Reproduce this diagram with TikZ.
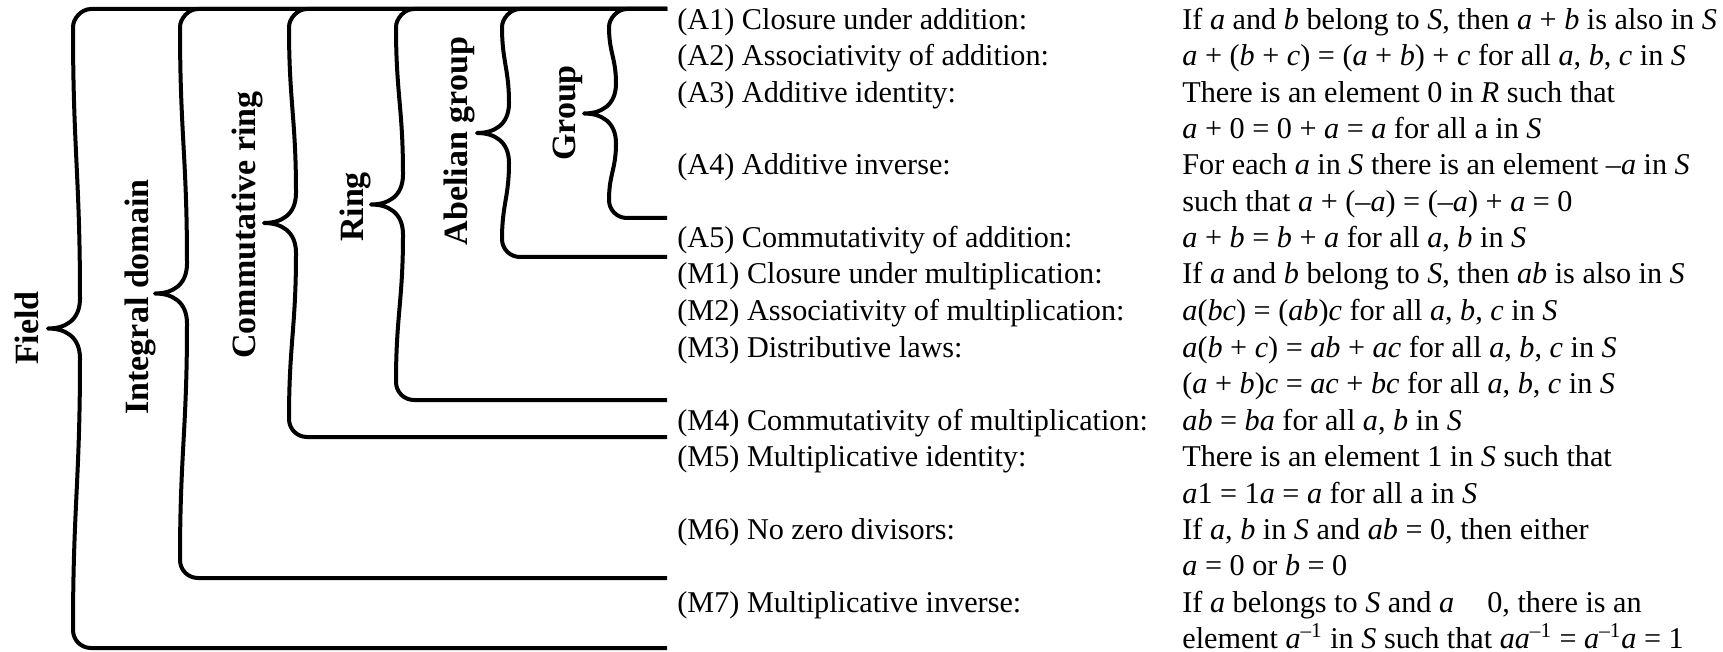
\documentclass[tikz,border=0pt]{standalone}
\usepackage{fontspec}
\setmainfont{Liberation Serif}
\newcommand\iv[1]{\textit{#1}}
\newcommand\mybrace[2]{%
  \pgfmathsetmacro\ym{(9+#2)/2}%
  \pgfmathsetmacro\La{0.45*(\ym-57)}%
  \draw[bline] (667,9) -- ({#1+18},9) .. controls ({#1+8},9) and (#1,19) .. (#1,27)
    .. controls (#1,{27+\La}) and ({#1+7},{\ym-30-\La}) .. ({#1+7},{\ym-30})
    .. controls ({#1+7},{\ym-8}) and ({#1-8},\ym) .. ({#1-25},\ym)
    .. controls ({#1-8},\ym) and ({#1+7},{\ym+8}) .. ({#1+7},{\ym+30})
    .. controls ({#1+7},{\ym+30+\La}) and (#1,{#2-18-\La}) .. (#1,{#2-18})
    .. controls (#1,{#2-8}) and ({#1+8},#2) .. ({#1+18},#2) -- (667,#2);
}
\begin{document}
\begin{tikzpicture}[x=0.5pt,y=-0.5pt,
  bline/.style={line width=2pt,line join=round},
  txt/.style={anchor=base west,inner sep=0pt,font=\fontsize{15.1pt}{18pt}\selectfont},
  lab/.style={anchor=base,inner sep=0pt,rotate=90,font=\fontsize{17pt}{20pt}\selectfont\bfseries}]
\useasboundingbox (0,0) rectangle (1723,652);
% braces
\mybrace{73}{648}
\mybrace{180}{578}
\mybrace{289}{437}
\mybrace{396}{400}
\mybrace{502}{257}
\mybrace{609}{218}
% labels
\node[lab] (field) at (38,328) {Field};
\node[lab] (intdom) at (148,297) {Integral domain};
\node[lab] (commring) at (255,225) {Commutative ring};
\node[lab] (ring) at (363,207) {Ring};
\node[lab] (abel) at (467,141) {Abelian group};
\node[lab] (group) at (575,113) {Group};
% left column
\node[txt] (l0) at (677,30) {(A1) Closure under addition:};
\node[txt] (l1) at (677,66) {(A2) Associativity of addition:};
\node[txt] (l2) at (677,103) {(A3) Additive identity:};
\node[txt] (l4) at (677,175) {(A4) Additive inverse:};
\node[txt] (l6) at (677,248) {(A5) Commutativity of addition:};
\node[txt] (l7) at (677,284) {(M1) Closure under multiplication:};
\node[txt] (l8) at (677,321) {(M2) Associativity of multiplication:};
\node[txt] (l9) at (677,357) {(M3) Distributive laws:};
\node[txt] (l11) at (677,430) {(M4) Commutativity of multiplication:};
\node[txt] (l12) at (677,466) {(M5) Multiplicative identity:};
\node[txt] (l14) at (677,539) {(M6) No zero divisors:};
\node[txt] (l16) at (677,612) {(M7) Multiplicative inverse:};
% right column
\node[txt] (r0) at (1182,30) {If \iv{a} and \iv{b} belong to \iv{S}, then \iv{a} + \iv{b} is also in \iv{S}};
\node[txt] (r1) at (1182,66) {\iv{a} + (\iv{b} + \iv{c}) = (\iv{a} + \iv{b}) + \iv{c} for all \iv{a}, \iv{b}, \iv{c} in \iv{S}};
\node[txt] (r2) at (1182,103) {There is an element 0 in \iv{R} such that};
\node[txt] (r3) at (1182,139) {\iv{a} + 0 = 0 + \iv{a} = \iv{a} for all a in \iv{S}};
\node[txt] (r4) at (1182,175) {For each \iv{a} in \iv{S} there is an element –\iv{a} in \iv{S}};
\node[txt] (r5) at (1182,212) {such that \iv{a} + (–\iv{a}) = (–\iv{a}) + \iv{a} = 0};
\node[txt] (r6) at (1182,248) {\iv{a} + \iv{b} = \iv{b} + \iv{a} for all \iv{a}, \iv{b} in \iv{S}};
\node[txt] (r7) at (1182,284) {If \iv{a} and \iv{b} belong to \iv{S}, then \iv{ab} is also in \iv{S}};
\node[txt] (r8) at (1182,321) {\iv{a}(\iv{bc}) = (\iv{ab})\iv{c} for all \iv{a}, \iv{b}, \iv{c} in \iv{S}};
\node[txt] (r9) at (1182,357) {\iv{a}(\iv{b} + \iv{c}) = \iv{ab} + \iv{ac} for all \iv{a}, \iv{b}, \iv{c} in \iv{S}};
\node[txt] (r10) at (1182,393) {(\iv{a} + \iv{b})\iv{c} = \iv{ac} + \iv{bc} for all \iv{a}, \iv{b}, \iv{c} in \iv{S}};
\node[txt] (r11) at (1182,430) {\iv{ab} = \iv{ba} for all \iv{a}, \iv{b} in \iv{S}};
\node[txt] (r12) at (1182,466) {There is an element 1 in \iv{S} such that};
\node[txt] (r13) at (1182,503) {\iv{a}1 = 1\iv{a} = \iv{a} for all a in \iv{S}};
\node[txt] (r14) at (1182,539) {If \iv{a}, \iv{b} in \iv{S} and \iv{ab} = 0, then either};
\node[txt] (r15) at (1182,575) {\iv{a} = 0 or \iv{b} = 0};
\node[txt] (r16) at (1182,612) {If \iv{a} belongs to \iv{S} and \iv{a}\hspace{1.1em}0, there is an};
\node[txt] (r17) at (1182,648) {element \iv{a}\textsuperscript{–1} in \iv{S} such that \iv{aa}\textsuperscript{–1} = \iv{a}\textsuperscript{–1}\iv{a} = 1};
\end{tikzpicture}
\end{document}
